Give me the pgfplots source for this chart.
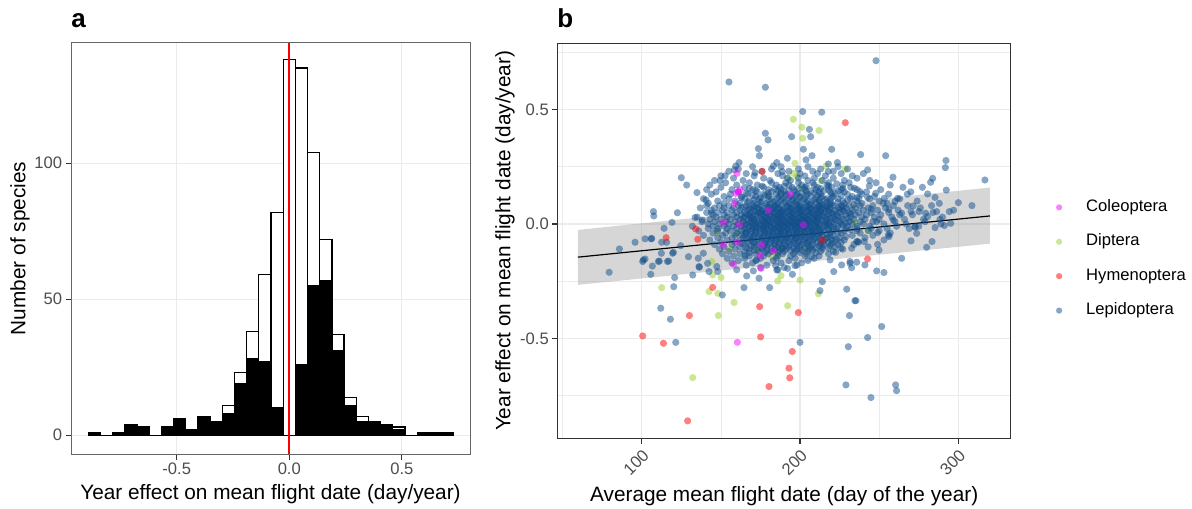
\documentclass[border=0pt]{standalone}
\usepackage{fontspec}
\setmainfont{Liberation Sans}
\usepackage{pgfplots}
\pgfplotsset{compat=1.18}
\definecolor{lep}{HTML}{104E8B}
\definecolor{dip}{HTML}{9ACD32}
\definecolor{hym}{HTML}{FF0000}
\definecolor{col}{HTML}{FF00FF}
\definecolor{gridc}{HTML}{EBEBEB}
\definecolor{tickc}{HTML}{4D4D4D}
\definecolor{axc}{HTML}{333333}
\definecolor{axa}{HTML}{666666}
\pgfplotsset{
  gg/.style={
    scale only axis,
    axis line style={axc, line width=0.55bp},
    tick style={axc, line width=0.55bp},
    tick align=outside,
    xtick pos=bottom, ytick pos=left,
    major tick length=2.75bp,
    minor tick length=0pt,
    major grid style={gridc, line width=0.6bp},
    minor grid style={gridc, line width=0.3bp},
    tick label style={font=\fontsize{8.3bp}{10bp}\selectfont, text=tickc},
    xticklabel style={inner sep=1.5bp},
    yticklabel style={inner sep=1.5bp},
    label style={font=\fontsize{10.4bp}{12.5bp}\selectfont},
    /pgf/number format/assume math mode=true,
  },
  lepst/.style={only marks, mark=*, mark size=1.8bp, mark options={draw=lep, draw opacity=0, fill=lep, fill opacity=0.5}},
  colst/.style={only marks, mark=*, mark size=1.8bp, mark options={draw=col, draw opacity=0, fill=col, fill opacity=0.5}},
  dipst/.style={only marks, mark=*, mark size=1.8bp, mark options={draw=dip, draw opacity=0, fill=dip, fill opacity=0.5}},
  hymst/.style={only marks, mark=*, mark size=1.8bp, mark options={draw=hym, draw opacity=0, fill=hym, fill opacity=0.5}},
}
\begin{document}
\begin{tikzpicture}
\path[use as bounding box] (0,0) rectangle (596bp,254.5bp);
\node[anchor=base west, inner sep=0pt, font=\bfseries\fontsize{13bp}{15bp}\selectfont] at (35.5bp,240.5bp) {a};
\node[anchor=base west, inner sep=0pt, font=\bfseries\fontsize{13bp}{15bp}\selectfont] at (278.5bp,240.5bp) {b};

% ---------------- panel a ----------------
\begin{axis}[gg,
  at={(35.5bp,27.5bp)}, anchor=south west,
  width=199.5bp, height=205.5bp,
  axis line style={axa, line width=0.5bp},
  xmin=-0.970, xmax=0.803, ymin=-6.9, ymax=144.2,
  xtick={-0.5,0,0.5}, xticklabels={-0.5,0.0,0.5},
  ytick={0,50,100},
  grid=major,
  xlabel={Year effect on mean flight date (day/year)},
  ylabel={Number of species},
  xlabel style={at={(axis description cs:0.5,-0.0985)}, anchor=center},
  ylabel style={at={(axis description cs:-0.128,0.5)}, anchor=center},
]
\addplot[ybar interval, fill=white, draw=black, line width=0.6bp] coordinates {
(-0.89265,1) (-0.83855,0) (-0.78445,1) (-0.73035,4) (-0.67625,3) (-0.62215,0)
(-0.56805,3) (-0.51395,6) (-0.45985,2) (-0.40575,7) (-0.35165,5) (-0.29755,11)
(-0.24345,23) (-0.18935,38) (-0.13525,59) (-0.08115,82) (-0.02705,138) (0.02705,135)
(0.08115,104) (0.13525,72) (0.18935,37) (0.24345,14) (0.29755,7) (0.35165,5)
(0.40575,4) (0.45985,3) (0.51395,0) (0.56805,1) (0.62215,1) (0.67625,1) (0.73035,1)};
\addplot[ybar interval, fill=black, draw=black, line width=0.6bp] coordinates {
(-0.89265,1) (-0.83855,0) (-0.78445,1) (-0.73035,4) (-0.67625,3) (-0.62215,0)
(-0.56805,3) (-0.51395,6) (-0.45985,2) (-0.40575,7) (-0.35165,5) (-0.29755,8)
(-0.24345,19) (-0.18935,28) (-0.13525,27) (-0.08115,10) (-0.02705,0) (0.02705,26)
(0.08115,55) (0.13525,57) (0.18935,31) (0.24345,11) (0.29755,5) (0.35165,5)
(0.40575,4) (0.45985,2) (0.51395,0) (0.56805,1) (0.62215,1) (0.67625,1) (0.73035,1)};
\addplot[draw=red, color=red, line width=1bp, mark=none] coordinates {(0,-6.9) (0,144.2)};
\end{axis}

% ---------------- panel b ----------------
\begin{axis}[gg,
  at={(278.85bp,35.35bp)}, anchor=south west,
  width=226.5bp, height=197.5bp,
  xmin=46.9, xmax=333.1, ymin=-0.936, ymax=0.789,
  xtick={100,200,300}, minor xtick={50,150,250},
  ytick={-0.5,0,0.5}, yticklabels={-0.5,0.0,0.5},
  minor ytick={-0.75,-0.25,0.25,0.75},
  grid=both,
  xticklabel style={rotate=45, anchor=north east},
  xlabel={Average mean flight date (day of the year)},
  ylabel={Year effect on mean flight date (day/year)},
  xlabel style={at={(axis description cs:0.5,-0.147)}, anchor=center},
  ylabel style={at={(axis description cs:-0.1163,0.5)}, anchor=center},
  legend cell align=left,
  legend image code/.code={\draw[mark repeat=2,mark phase=2,#1] plot coordinates {(0bp,0bp) (4bp,0bp) (8bp,0bp)};},
  legend style={at={(1.100,0.454)}, anchor=west, draw=none, fill=none,
    inner sep=0pt, outer sep=0pt, row sep=9.2bp, column sep=12bp,
    font=\fontsize{8.3bp}{10bp}\selectfont,
    nodes={inner sep=0pt, text height=6.1bp, text depth=1.9bp}},
]
\addlegendimage{colst, mark size=1.55bp}\addlegendentry{Coleoptera}
\addlegendimage{dipst, mark size=1.55bp}\addlegendentry{Diptera}
\addlegendimage{hymst, mark size=1.55bp}\addlegendentry{Hymenoptera}
\addlegendimage{lepst, mark size=1.55bp}\addlegendentry{Lepidoptera}

% Diptera
\addplot[dipst, forget plot] coordinates {
(195.8,0.457) (201.1,0.422) (212.0,0.408) (201.7,0.374) (196.8,0.265) (228.4,0.239)
(216.4,0.253) (192.6,0.199) (197.9,0.207) (195.8,0.221) (180.4,0.122) (188.0,0.131)
(213.3,0.188) (212.6,0.098) (201.0,0.156) (204.2,0.017) (164.2,0.006) (160.0,-0.041)
(147.4,-0.033) (112.6,-0.278) (142.5,-0.295) (148.0,-0.303) (148.4,-0.400) (158.3,-0.343)
(132.2,-0.671) (192.2,-0.357) (185.9,-0.249) (188.0,-0.226) (200.0,-0.245) (211.6,-0.305)
(172.6,-0.114) (182.1,-0.143) (185.7,-0.136) (144.2,-0.164) (150.1,-0.234) (144.8,-0.223)
(204.2,-0.111) (234.7,0.006) (243.2,-0.029) (155.8,-0.109)};

% Lepidoptera: sparse points
\addplot[lepst, forget plot] coordinates {
(155.1,0.620) (178.1,0.597) (248.0,0.713) (201.7,0.491) (213.7,0.488) (205.9,0.413)
(206.7,0.381) (194.7,0.381) (178.1,0.396) (179.8,0.367) (173.7,0.329) (174.3,0.298)
(202.1,0.326) (220.0,0.326) (207.6,0.298) (238.3,0.303) (254.1,0.298) (203.8,0.280)
(223.6,0.268) (192.0,0.287) (292.2,0.277) (291.8,0.246) (242.7,0.236) (258.7,0.204)
(316.8,0.192) (270.1,0.185) (283.8,0.199) (282.5,0.182) (277.3,0.160) (292.4,0.148)
(243.8,0.166) (247.8,0.134) (280.6,0.131) (285.3,0.116) (267.8,0.130) (300.0,0.093)
(308.6,0.080) (294.3,0.054) (295.2,0.003) (291.2,-0.007) (285.3,-0.016) (272.8,-0.012)
(273.7,-0.041) (270.1,-0.074) (283.4,-0.077) (280.0,-0.102) (264.2,-0.150) (248.4,-0.205)
(253.0,-0.212) (241.0,-0.179) (231.6,-0.172) (232.6,-0.191) (221.3,-0.208) (214.1,-0.252)
(212.6,-0.291) (229.5,-0.285) (234.7,-0.335) (231.2,-0.400) (242.7,-0.496) (251.6,-0.448)
(230.5,-0.536) (200.0,-0.517) (229.0,-0.703) (260.4,-0.703) (261.0,-0.728) (244.8,-0.758)
(164.6,-0.278) (180.8,-0.278) (174.1,-0.237) (166.3,-0.227) (150.9,-0.310) (132.2,-0.223)
(120.2,-0.274) (120.8,-0.234) (112.0,-0.368) (118.1,-0.416) (121.5,-0.517) (105.7,-0.220)
(79.4,-0.211) (85.9,-0.109) (95.8,-0.080) (100.6,-0.164) (102.1,-0.153) (106.7,-0.184)
(110.5,-0.164) (112.4,-0.128) (116.2,-0.164) (120.0,-0.124) (124.6,-0.095) (114.1,-0.019)
(119.1,0.007) (122.5,0.049) (107.4,0.054) (107.6,0.035) (102.1,-0.065) (105.9,-0.065)
(112.6,-0.080) (129.5,-0.143) (136.2,-0.186) (125.0,0.202) (128.4,0.170) (134.9,0.137)
(140.6,0.105) (133.7,0.028) (138.3,0.017) (144.1,0.047)
(237.9,0.141) (237.2,0.112) (242.7,0.116) (253.2,0.112) (252.6,0.090) (260.0,0.098)
(261.6,0.112) (256.2,0.064) (264.2,0.047) (270.1,0.054) (271.5,0.079) (275.1,0.054)
(279.3,0.047) (280.6,0.032) (286.3,0.054) (283.1,0.080) (258.9,0.017) (248.4,0.010)
(288.4,0.020) (272.6,-0.014) (255.8,-0.048) (249.0,-0.038) (243.1,-0.029)
(236.4,-0.077) (240.6,-0.077) (249.0,-0.089) (249.9,-0.114) (256.2,-0.055) (235.8,-0.167)
(235.3,-0.335)
(106.3,-0.063) (115.7,-0.080) (101.0,-0.157) (111.1,-0.162) (117.0,-0.162) (119.5,-0.128)
(135.7,-0.150) (136.4,-0.189) (141.6,-0.172) (142.5,-0.208) (138.9,-0.128)
(147.4,-0.186) (148.0,-0.208) (170.5,-0.205) (184.6,-0.182) (185.3,-0.201) (192.2,-0.194)
(196.8,-0.182) (195.2,-0.220) (226.3,-0.179) (231.6,-0.164) (165.3,-0.138) (172.6,-0.157)
(188.4,-0.106) (207.4,-0.143) (219.0,-0.157) (222.5,-0.124) (225.9,-0.106) (232.6,-0.106)
(235.8,-0.077)
(185.3,0.268) (161.5,0.268) (159.4,0.253) (158.5,0.236) (152.6,0.210) (149.5,0.189)
(183.2,0.253) (188.8,0.229) (171.6,0.224) (217.9,0.262) (217.9,0.229) (223.2,0.175) (234.3,0.156)};

% Lepidoptera: dense core
\addplot[lepst, forget plot] coordinates {
(170,0.25) (188,0.25) (205,0.25) (224,0.25)
(161,0.24) (182,0.24) (199,0.24) (213,0.24) (230,0.24)
(155,0.23) (176,0.23) (193,0.23) (208,0.23) (221,0.23)
(166,0.22) (186,0.22) (200,0.22) (211,0.22) (226,0.22) (240,0.22)
(150,0.21) (171,0.21) (189,0.21) (203,0.21) (216,0.21) (233,0.21)
(158,0.20) (177,0.20) (192,0.20) (199,0.20) (209,0.20) (221,0.20) (236,0.20)
(146,0.19) (164,0.19) (181,0.19) (194,0.19) (205,0.19) (214,0.19) (228,0.19) (244,0.19)
(153,0.18) (168,0.18) (182,0.18) (191,0.18) (199,0.18) (208,0.18) (218,0.18) (231,0.18) (248,0.18)
(143,0.17) (160,0.17) (173,0.17) (185,0.17) (193,0.17) (201,0.17) (209,0.17) (217,0.17) (227,0.17) (257,0.17)
(150,0.16) (165,0.16) (177,0.16) (187,0.16) (195,0.16) (203,0.16) (211,0.16) (220,0.16) (232,0.16) (265,0.16)
(141,0.15) (157,0.15) (170,0.15) (180,0.15) (188,0.15) (196,0.15) (203,0.15) (210,0.15) (218,0.15) (226,0.15) (236,0.15) (251,0.15)
(147,0.14) (161,0.14) (173,0.14) (182,0.14) (190,0.14) (197,0.14) (204,0.14) (212,0.14) (219,0.14) (228,0.14) (242,0.14) (270,0.14)
(144,0.13) (156,0.13) (167,0.13) (177,0.13) (185,0.13) (191,0.13) (198,0.13) (205,0.13) (213,0.13) (220,0.13) (230,0.13) (239,0.13) (256,0.13)
(152,0.12) (163,0.12) (172,0.12) (180,0.12) (187,0.12) (194,0.12) (200,0.12) (207,0.12) (214,0.12) (221,0.12) (233,0.12) (247,0.12)
(139,0.11) (155,0.11) (165,0.11) (174,0.11) (182,0.11) (189,0.11) (196,0.11) (203,0.11) (210,0.11) (217,0.11) (224,0.11) (232,0.11) (244,0.11) (263,0.11)
(148,0.10) (159,0.10) (168,0.10) (176,0.10) (184,0.10) (191,0.10) (198,0.10) (205,0.10) (212,0.10) (219,0.10) (227,0.10) (236,0.10) (250,0.10) (274,0.10)
(142,0.09) (152,0.09) (162,0.09) (171,0.09) (179,0.09) (186,0.09) (193,0.09) (200,0.09) (207,0.09) (213,0.09) (220,0.09) (228,0.09) (239,0.09) (255,0.09) (288,0.09)
(141,0.08) (149,0.08) (155,0.08) (161,0.08) (166,0.08) (170,0.08) (175,0.08) (179,0.08) (184,0.08) (188,0.08) (192,0.08) (196,0.08) (200,0.08) (204,0.08) (208,0.08) (212,0.08) (216,0.08) (221,0.08) (226,0.08) (231,0.08) (238,0.08) (246,0.08) (259,0.08) (268,0.08)
(137,0.07) (146,0.07) (152,0.07) (158,0.07) (163,0.07) (168,0.07) (173,0.07) (177,0.07) (182,0.07) (186,0.07) (190,0.07) (194,0.07) (198,0.07) (202,0.07) (206,0.07) (210,0.07) (214,0.07) (219,0.07) (224,0.07) (229,0.07) (235,0.07) (243,0.07) (254,0.07) (276,0.07)
(144,0.06) (151,0.06) (157,0.06) (162,0.06) (167,0.06) (171,0.06) (176,0.06) (180,0.06) (185,0.06) (189,0.06) (193,0.06) (197,0.06) (201,0.06) (205,0.06) (209,0.06) (213,0.06) (218,0.06) (222,0.06) (227,0.06) (233,0.06) (240,0.06) (249,0.06) (262,0.06) (297,0.06)
(141,0.05) (148,0.05) (154,0.05) (160,0.05) (165,0.05) (169,0.05) (174,0.05) (178,0.05) (183,0.05) (187,0.05) (191,0.05) (195,0.05) (199,0.05) (203,0.05) (207,0.05) (211,0.05) (215,0.05) (220,0.05) (225,0.05) (231,0.05) (237,0.05) (245,0.05) (256,0.05) (284,0.05)
(145,0.04) (152,0.04) (158,0.04) (163,0.04) (168,0.04) (172,0.04) (177,0.04) (181,0.04) (186,0.04) (190,0.04) (194,0.04) (198,0.04) (202,0.04) (206,0.04) (210,0.04) (214,0.04) (218,0.04) (223,0.04) (229,0.04) (235,0.04) (242,0.04) (251,0.04) (263,0.04) (271,0.04)
(135,0.03) (147,0.03) (154,0.03) (160,0.03) (165,0.03) (170,0.03) (175,0.03) (179,0.03) (184,0.03) (188,0.03) (192,0.03) (196,0.03) (200,0.03) (204,0.03) (208,0.03) (212,0.03) (217,0.03) (221,0.03) (226,0.03) (232,0.03) (239,0.03) (247,0.03) (258,0.03) (290,0.03)
(143,0.02) (150,0.02) (156,0.02) (162,0.02) (167,0.02) (171,0.02) (176,0.02) (180,0.02) (185,0.02) (189,0.02) (193,0.02) (197,0.02) (201,0.02) (205,0.02) (209,0.02) (213,0.02) (217,0.02) (222,0.02) (227,0.02) (234,0.02) (241,0.02) (250,0.02) (266,0.02) (278,0.02)
(138,0.01) (146,0.01) (153,0.01) (159,0.01) (164,0.01) (169,0.01) (173,0.01) (178,0.01) (182,0.01) (187,0.01) (191,0.01) (195,0.01) (199,0.01) (203,0.01) (207,0.01) (211,0.01) (216,0.01) (220,0.01) (225,0.01) (231,0.01) (238,0.01) (246,0.01) (260,0.01) (279,0.01)
(142,0.00) (149,0.00) (155,0.00) (161,0.00) (166,0.00) (170,0.00) (174,0.00) (179,0.00) (183,0.00) (188,0.00) (192,0.00) (196,0.00) (200,0.00) (204,0.00) (208,0.00) (212,0.00) (216,0.00) (221,0.00) (226,0.00) (233,0.00) (240,0.00) (253,0.00) (267,0.00) (289,0.00)
(132,-0.01) (145,-0.01) (152,-0.01) (158,-0.01) (163,-0.01) (168,-0.01) (172,-0.01) (177,-0.01) (181,-0.01) (186,-0.01) (190,-0.01) (194,-0.01) (198,-0.01) (202,-0.01) (206,-0.01) (210,-0.01) (215,-0.01) (219,-0.01) (224,-0.01) (230,-0.01) (236,-0.01) (244,-0.01) (261,-0.01) (275,-0.01)
(142,-0.02) (148,-0.02) (154,-0.02) (160,-0.02) (165,-0.02) (170,-0.02) (175,-0.02) (179,-0.02) (184,-0.02) (188,-0.02) (192,-0.02) (197,-0.02) (201,-0.02) (205,-0.02) (209,-0.02) (214,-0.02) (218,-0.02) (223,-0.02) (229,-0.02) (236,-0.02) (245,-0.02) (255,-0.02) (269,-0.02)
(136,-0.03) (148,-0.03) (156,-0.03) (163,-0.03) (169,-0.03) (175,-0.03) (180,-0.03) (185,-0.03) (190,-0.03) (195,-0.03) (200,-0.03) (205,-0.03) (210,-0.03) (215,-0.03) (221,-0.03) (228,-0.03) (236,-0.03) (250,-0.03)
(145,-0.04) (153,-0.04) (160,-0.04) (166,-0.04) (172,-0.04) (178,-0.04) (183,-0.04) (188,-0.04) (193,-0.04) (198,-0.04) (203,-0.04) (208,-0.04) (213,-0.04) (219,-0.04) (226,-0.04) (238,-0.04) (257,-0.04)
(139,-0.05) (151,-0.05) (159,-0.05) (165,-0.05) (171,-0.05) (177,-0.05) (182,-0.05) (187,-0.05) (192,-0.05) (197,-0.05) (202,-0.05) (208,-0.05) (214,-0.05) (221,-0.05) (233,-0.05) (246,-0.05)
(148,-0.06) (157,-0.06) (164,-0.06) (170,-0.06) (176,-0.06) (182,-0.06) (187,-0.06) (192,-0.06) (198,-0.06) (204,-0.06) (210,-0.06) (217,-0.06) (225,-0.06) (241,-0.06)
(143,-0.07) (154,-0.07) (162,-0.07) (169,-0.07) (176,-0.07) (182,-0.07) (188,-0.07) (194,-0.07) (200,-0.07) (206,-0.07) (213,-0.07) (220,-0.07) (228,-0.07) (253,-0.07)
(150,-0.08) (159,-0.08) (167,-0.08) (174,-0.08) (181,-0.08) (187,-0.08) (193,-0.08) (199,-0.08) (205,-0.08) (211,-0.08) (218,-0.08) (226,-0.08) (237,-0.08)
(146,-0.09) (157,-0.09) (165,-0.09) (173,-0.09) (180,-0.09) (187,-0.09) (194,-0.09) (201,-0.09) (208,-0.09) (215,-0.09) (224,-0.09) (234,-0.09)
(152,-0.10) (162,-0.10) (171,-0.10) (179,-0.10) (186,-0.10) (193,-0.10) (200,-0.10) (207,-0.10) (214,-0.10) (222,-0.10) (243,-0.10)
(149,-0.11) (159,-0.11) (168,-0.11) (176,-0.11) (184,-0.11) (191,-0.11) (198,-0.11) (206,-0.11) (214,-0.11) (227,-0.11)
(155,-0.12) (165,-0.12) (174,-0.12) (182,-0.12) (190,-0.12) (197,-0.12) (205,-0.12) (213,-0.12) (221,-0.12)
(151,-0.13) (162,-0.13) (172,-0.13) (180,-0.13) (189,-0.13) (196,-0.13) (204,-0.13) (218,-0.13)
(158,-0.14) (168,-0.14) (177,-0.14) (186,-0.14) (194,-0.14) (203,-0.14) (212,-0.14)
(154,-0.15) (165,-0.15) (175,-0.15) (185,-0.15) (197,-0.15) (209,-0.15)
(161,-0.16) (172,-0.16) (183,-0.16) (193,-0.16) (205,-0.16)
(157,-0.17) (170,-0.17) (188,-0.17) (201,-0.17)
(166,-0.18) (179,-0.18) (198,-0.18)
(175,-0.19) (190,-0.19)
(160,-0.20) (186,-0.20)};

% Lepidoptera: densest centre
\addplot[lepst, forget plot] coordinates {
(176,0.165) (190,0.165) (204,0.165) (218,0.165)
(168,0.155) (184,0.155) (199,0.155) (213,0.155) (227,0.155)
(172,0.145) (186,0.145) (193,0.145) (207,0.145) (215,0.145) (224,0.145)
(166,0.135) (180,0.135) (188,0.135) (201,0.135) (209,0.135) (222,0.135)
(170,0.125) (178,0.125) (191,0.125) (197,0.125) (204,0.125) (211,0.125) (226,0.125)
(163,0.115) (175,0.115) (186,0.115) (193,0.115) (200,0.115) (213,0.115) (220,0.115) (236,0.115)
(171,0.105) (180,0.105) (188,0.105) (195,0.105) (202,0.105) (209,0.105) (216,0.105) (230,0.105)
(167,0.095) (175,0.095) (183,0.095) (190,0.095) (197,0.095) (204,0.095) (210,0.095) (217,0.095) (224,0.095)
(173,0.085) (181,0.085) (186,0.085) (194,0.085) (198,0.085) (206,0.085) (214,0.085) (219,0.085) (234,0.085)
(165,0.075) (171,0.075) (180,0.075) (184,0.075) (192,0.075) (200,0.075) (204,0.075) (212,0.075) (217,0.075) (227,0.075)
(169,0.065) (174,0.065) (183,0.065) (187,0.065) (195,0.065) (199,0.065) (207,0.065) (211,0.065) (216,0.065) (225,0.065) (245,0.065)
(172,0.055) (176,0.055) (181,0.055) (189,0.055) (193,0.055) (201,0.055) (205,0.055) (213,0.055) (218,0.055) (228,0.055)
(166,0.045) (175,0.045) (179,0.045) (184,0.045) (188,0.045) (196,0.045) (200,0.045) (208,0.045) (212,0.045) (221,0.045) (232,0.045)
(168,0.035) (173,0.035) (182,0.035) (186,0.035) (190,0.035) (194,0.035) (202,0.035) (206,0.035) (210,0.035) (215,0.035) (224,0.035)
(164,0.025) (169,0.025) (178,0.025) (183,0.025) (187,0.025) (195,0.025) (199,0.025) (203,0.025) (211,0.025) (219,0.025) (230,0.025)
(171,0.015) (176,0.015) (180,0.015) (185,0.015) (189,0.015) (193,0.015) (197,0.015) (201,0.015) (205,0.015) (209,0.015) (214,0.015) (223,0.015)
(168,0.005) (172,0.005) (177,0.005) (181,0.005) (186,0.005) (190,0.005) (194,0.005) (198,0.005) (202,0.005) (206,0.005) (210,0.005) (218,0.005) (229,0.005)
(165,-0.005) (175,-0.005) (179,-0.005) (184,-0.005) (188,-0.005) (192,-0.005) (196,-0.005) (200,-0.005) (204,-0.005) (212,-0.005) (217,-0.005) (227,-0.005)
(170,-0.015) (173,-0.015) (177,-0.015) (182,-0.015) (186,-0.015) (190,-0.015) (195,-0.015) (199,-0.015) (203,-0.015) (207,-0.015) (211,-0.015) (221,-0.015)
(167,-0.025) (172,-0.025) (177,-0.025) (182,-0.025) (187,-0.025) (192,-0.025) (197,-0.025) (202,-0.025) (207,-0.025) (212,-0.025) (218,-0.025) (232,-0.025)
(166,-0.035) (172,-0.035) (178,-0.035) (183,-0.035) (188,-0.035) (193,-0.035) (198,-0.035) (203,-0.035) (208,-0.035) (213,-0.035) (224,-0.035)
(163,-0.045) (169,-0.045) (175,-0.045) (180,-0.045) (186,-0.045) (190,-0.045) (196,-0.045) (200,-0.045) (206,-0.045) (211,-0.045) (217,-0.045)
(168,-0.055) (174,-0.055) (180,-0.055) (185,-0.055) (190,-0.055) (195,-0.055) (200,-0.055) (206,-0.055) (212,-0.055) (219,-0.055) (229,-0.055)
(166,-0.065) (173,-0.065) (179,-0.065) (185,-0.065) (191,-0.065) (197,-0.065) (203,-0.065) (209,-0.065) (216,-0.065) (223,-0.065)
(170,-0.075) (178,-0.075) (184,-0.075) (190,-0.075) (196,-0.075) (202,-0.075) (208,-0.075) (215,-0.075) (222,-0.075)
(163,-0.085) (171,-0.085) (178,-0.085) (184,-0.085) (190,-0.085) (197,-0.085) (204,-0.085) (213,-0.085) (220,-0.085)
(169,-0.095) (177,-0.095) (184,-0.095) (191,-0.095) (198,-0.095) (205,-0.095) (212,-0.095) (219,-0.095)
(166,-0.105) (175,-0.105) (182,-0.105) (189,-0.105) (196,-0.105) (203,-0.105) (210,-0.105) (218,-0.105)
(171,-0.115) (179,-0.115) (187,-0.115) (194,-0.115) (201,-0.115) (208,-0.115)
(168,-0.125) (178,-0.125) (186,-0.125) (200,-0.125) (210,-0.125)};

% Coleoptera
\addplot[colst, forget plot] coordinates {
(160.2,0.221) (159.4,0.133) (162.0,0.149) (161.0,0.140) (158.5,0.090) (151.6,0.006)
(180.0,0.058) (193.7,0.131) (202.1,-0.004) (161.7,-0.002) (160.4,-0.080) (175.8,-0.092)
(183.2,-0.118) (174.7,-0.138) (157.9,-0.176) (175.4,-0.194) (160.4,-0.517) (151.6,-0.092)};

% Hymenoptera
\addplot[hymst, forget plot] coordinates {
(228.6,0.442) (176.0,0.229) (115.4,-0.060) (134.1,-0.022) (135.4,-0.067) (144.8,-0.277)
(130.1,-0.400) (100.6,-0.489) (113.7,-0.521) (129.0,-0.860) (174.5,-0.361) (175.1,-0.493)
(180.4,-0.710) (195.1,-0.557) (193.0,-0.630) (193.5,-0.672) (198.9,-0.387) (242.7,-0.153)
(213.9,-0.070)};

% smoother band and line
\addplot[fill=black!40, fill opacity=0.4, draw=none, forget plot] coordinates {
(59.6,-0.266) (320.0,-0.086) (320.0,0.159) (59.6,-0.026)} -- cycle;
\addplot[black, line width=0.6bp, forget plot] coordinates {(59.6,-0.145) (320.0,0.035)};
\end{axis}
\end{tikzpicture}
\end{document}
